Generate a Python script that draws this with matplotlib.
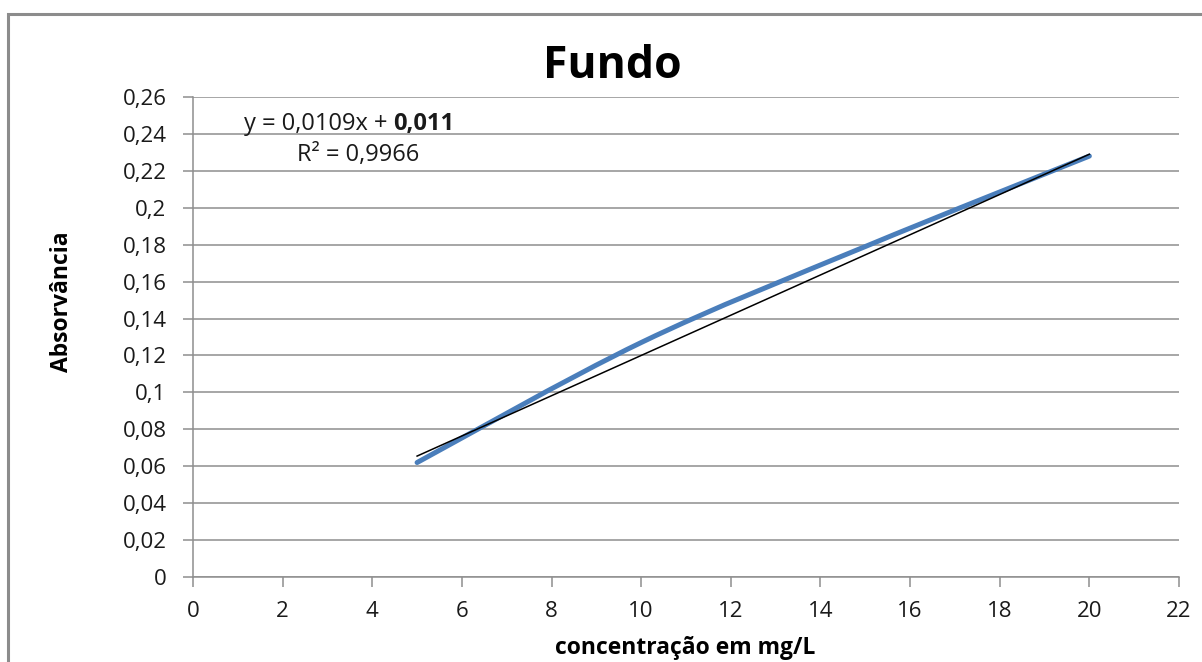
import matplotlib
matplotlib.use("Agg")
import matplotlib.pyplot as plt
from matplotlib.path import Path
from matplotlib.patches import PathPatch, Rectangle
from matplotlib.ticker import FuncFormatter, MultipleLocator

# Calibration data
conc = [5, 10, 15, 20]
absorb = [0.062, 0.127, 0.179, 0.228]

# Linear trend line reported by the fit
slope = 0.0109
intercept = 0.011
r2 = 0.9966

plt.rcParams['font.family'] = ['Open Sans', 'DejaVu Sans']

W, H = 1202, 662
fig = plt.figure(figsize=(W / 100, H / 100), dpi=100)
ax = fig.add_axes([193 / W, 1 - 577 / H, (1179 - 193) / W, (577 - 97) / H])

# outer chart border
fig.patches.append(Rectangle((8 / W, -0.05), 1.2, 1 - 14 / H + 0.05,
                             transform=fig.transFigure, fill=False,
                             edgecolor='#8c8c8c', lw=2.2, zorder=0))


def smooth_path(xs, ys, tension=1 / 6):
    # Catmull-Rom style bezier segments, like a spreadsheet smoothed line
    verts = [(xs[0], ys[0])]
    codes = [Path.MOVETO]
    n = len(xs)
    for i in range(n - 1):
        x0, y0 = (xs[i - 1], ys[i - 1]) if i > 0 else (xs[i], ys[i])
        x1, y1 = xs[i], ys[i]
        x2, y2 = xs[i + 1], ys[i + 1]
        x3, y3 = (xs[i + 2], ys[i + 2]) if i + 2 < n else (x2, y2)
        c1 = (x1 + (x2 - x0) * tension, y1 + (y2 - y0) * tension)
        c2 = (x2 - (x3 - x1) * tension, y2 - (y3 - y1) * tension)
        verts += [c1, c2, (x2, y2)]
        codes += [Path.CURVE4] * 3
    return Path(verts, codes)


ax.add_patch(PathPatch(smooth_path(conc, absorb), fill=False,
                       edgecolor='#4a7ebb', lw=3.6, capstyle='round', zorder=3))

tx = [conc[0], conc[-1]]
ty = [slope * x + intercept for x in tx]
ax.plot(tx, ty, color='black', lw=1.1, zorder=4)

ax.set_xlim(0, 22)
ax.set_ylim(0, 0.26)
ax.xaxis.set_major_locator(MultipleLocator(2))
ax.yaxis.set_major_locator(MultipleLocator(0.02))


def comma_fmt(v, pos):
    s = f"{v:.2f}".rstrip('0').rstrip('.')
    return s.replace('.', ',')


ax.yaxis.set_major_formatter(FuncFormatter(comma_fmt))
ax.xaxis.set_major_formatter(FuncFormatter(lambda v, p: f"{v:.0f}"))

ax.grid(axis='y', color='#8e8e8e', lw=1.1)
ax.set_axisbelow(True)
for side in ['top', 'right']:
    ax.spines[side].set_visible(False)
for side in ['left', 'bottom']:
    ax.spines[side].set_color('#8e8e8e')
    ax.spines[side].set_linewidth(1.1)
ax.tick_params(axis='both', direction='out', length=7, width=1.1,
               color='#8e8e8e', labelsize=16, labelcolor='#1a1a1a')
ax.tick_params(axis='x', pad=10)
ax.tick_params(axis='y', pad=12)

fig.text(612 / W, 1 - 66 / H, 'Fundo', fontsize=32, fontweight='bold',
         ha='center', va='center')
fig.text(685 / W, 1 - 648 / H, 'concentração em mg/L', fontsize=16.5,
         fontweight='bold', ha='center', va='center')
fig.text(62 / W, 1 - 302 / H, 'Absorvância', fontsize=16.5, fontweight='bold',
         rotation=90, ha='center', va='center')

# trend line equation, coefficient in bold
eq = fig.text(244 / W, 1 - 124 / H, 'y = 0,0109x + ', fontsize=17,
              ha='left', va='center', color='#1a1a1a')
ax.annotate('0,011', xy=(1, 0.5), xycoords=eq, va='center', ha='left',
            fontsize=17, fontweight='bold', color='#1a1a1a')
fig.text(358 / W, 1 - 155 / H, f"R² = {str(r2).replace('.', ',')}",
         fontsize=17, ha='center', va='center', color='#1a1a1a')

fig.savefig('out.png', dpi=100)
